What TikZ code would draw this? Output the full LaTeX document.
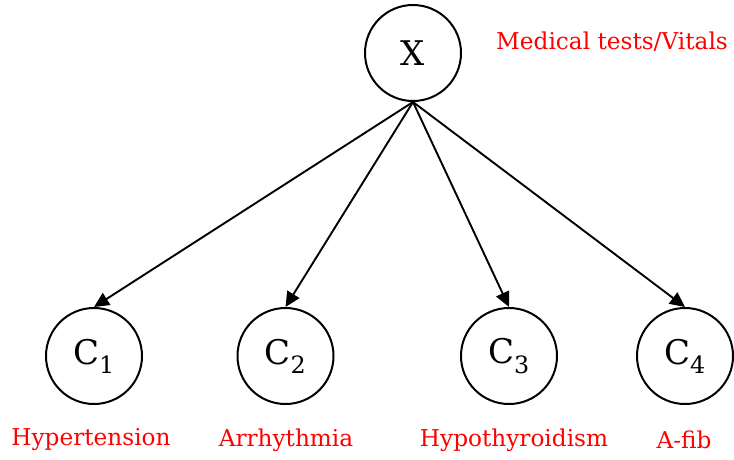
\documentclass[tikz,border=0pt]{standalone}
\usepackage{fontspec}
\setmainfont{DejaVu Serif}
\usetikzlibrary{arrows.meta}
\begin{document}
\begin{tikzpicture}[x=1pt,y=-1pt,
  var/.style={circle,draw,line width=2pt,minimum size=96pt,inner sep=0pt,
    font=\fontsize{34}{38}\selectfont},
  tag/.style={text=red,font=\fontsize{23.2}{27}\selectfont,inner sep=0pt},
  edge/.style={line width=1.9pt,-{Triangle[length=15pt,width=14pt]}}]
\useasboundingbox (0,0) rectangle (734,459);
\node[var] (X) at (413,53) {X};
\node[var] (C1) at (94,356) {C$_{\mathrm{1}}$};
\node[var] (C2) at (285.5,356) {C$_{\mathrm{2}}$};
\node[var] (C3) at (509,356) {C$_{\mathrm{3}}$};
\node[var] (C4) at (685,356) {C$_{\mathrm{4}}$};
\node[tag] (lx) at (612,42) {Medical tests/Vitals};
\node[tag] (l1) at (91,440) {Hypertension};
\node[tag] (l2) at (286,440) {Arrhythmia};
\node[tag] (l3) at (514,440) {Hypothyroidism};
\node[tag] (l4) at (684,440) {A-fib};
\foreach \c in {C1,C2,C3,C4} \draw[edge] (X.south) -- (\c.north);
\end{tikzpicture}
\end{document}
